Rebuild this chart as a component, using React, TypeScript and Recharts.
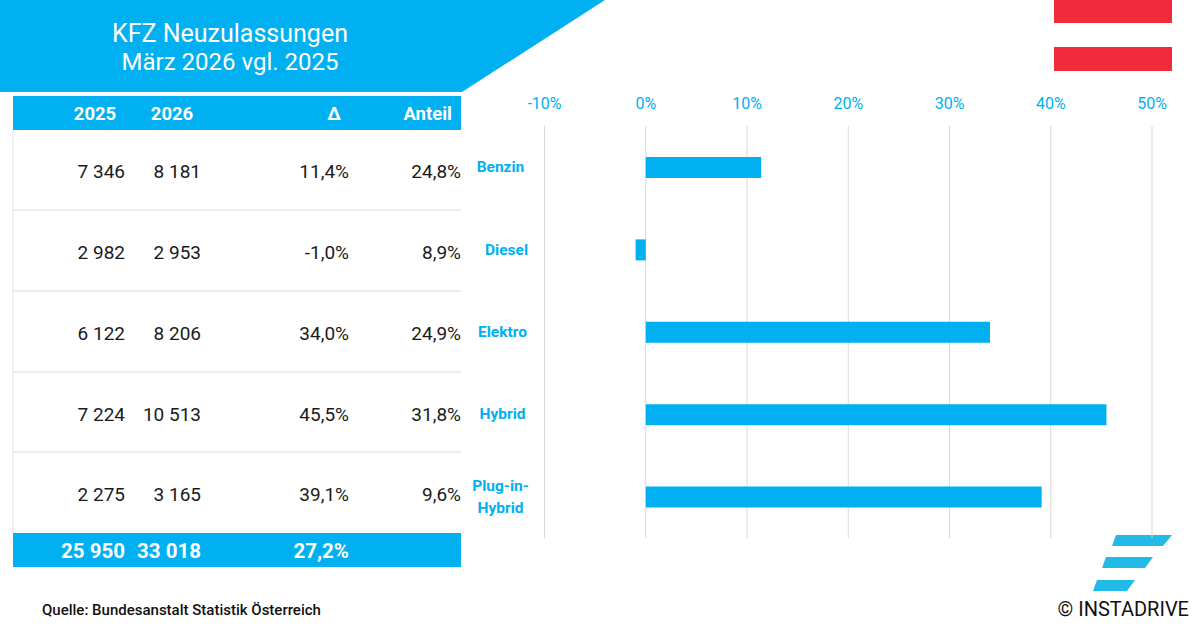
import React from "react";
import { BarChart, Bar, XAxis, YAxis, CartesianGrid } from "recharts";

const categories = ["Benzin", "Diesel", "Elektro", "Hybrid", "Plug-in-Hybrid"];
const changePct = [11.4, -1.0, 34.0, 45.5, 39.1];
const col2025 = ["7 346", "2 982", "6 122", "7 224", "2 275"];
const col2026 = ["8 181", "2 953", "8 206", "10 513", "3 165"];
const colDelta = ["11,4%", "-1,0%", "34,0%", "45,5%", "39,1%"];
const colShare = ["24,8%", "8,9%", "24,9%", "31,8%", "9,6%"];
const totals = ["25 950", "33 018", "27,2%"];
const headers = ["2025", "2026", "Δ", "Anteil"];
const xTicks = [-10, 0, 10, 20, 30, 40, 50];
const rowCenters = [171, 252, 333, 414, 494];
const rowLines = [210, 291, 372, 452];

const BLUE = "#00b0f0";
const FONT = "Roboto, 'Noto Sans', sans-serif";
const data = categories.map((name, i) => ({ name, value: changePct[i] }));

const T = ({ x, y, anchor = "end", size = 19, weight = 400, fill = "#1a1a1a", children }: any) => (
  <text x={x} y={y} textAnchor={anchor} dominantBaseline="central" fontFamily={FONT} fontSize={size} fontWeight={weight} fill={fill}>
    {children}
  </text>
);

const CategoryTick = ({ x, y, payload }: any) => {
  const v: string = payload.value;
  const lines = v === "Plug-in-Hybrid" ? ["Plug-in-", "Hybrid"] : [v];
  const cx = x - 36;
  return (
    <g>
      {lines.map((l, i) => (
        <text key={l} x={lines.length > 1 ? (i === 0 ? cx : cx + 0) : cx + (v === "Benzin" ? 0 : v === "Diesel" ? 6 : 2)} y={lines.length > 1 ? y - 11 + i * 22 : y}
          textAnchor="middle" dominantBaseline="central" fontFamily={FONT} fontSize={15.5} fontWeight={700} fill={BLUE}>
          {l}
        </text>
      ))}
    </g>
  );
};

export default function App() {
  return (
    <div style={{ position: "absolute", left: 0, top: 0, width: 1200, height: 629, background: "#fff", overflow: "hidden" }}>
      <svg width={1200} height={629} style={{ position: "absolute", left: 0, top: 0 }}>
        <polygon points="0,0 605,0 462,92 0,92" fill={BLUE} />
        <T x={230} y={33} anchor="middle" size={25} fill="#fff">KFZ Neuzulassungen</T>
        <T x={230} y={62} anchor="middle" size={24} fill="#fff">März 2026 vgl. 2025</T>

        <rect x={1054} y={0} width={118} height={23} fill="#ef2b3c" />
        <rect x={1054} y={47} width={118} height={24} fill="#ef2b3c" />

        <rect x={13} y={96} width={448} height={34} fill={BLUE} />
        <T x={95} y={114} anchor="middle" size={18.5} weight={700} fill="#fff">{headers[0]}</T>
        <T x={172} y={114} anchor="middle" size={18.5} weight={700} fill="#fff">{headers[1]}</T>
        <T x={334} y={114} anchor="middle" size={18.5} weight={700} fill="#fff">{headers[2]}</T>
        <T x={452} y={114} size={18.5} weight={700} fill="#fff">{headers[3]}</T>

        <line x1={13} x2={13} y1={130} y2={532} stroke="#e3e3e3" />
        {rowLines.map((y) => (
          <line key={y} x1={13} x2={461} y1={y} y2={y} stroke="#d9d9d9" />
        ))}
        {rowCenters.map((y, i) => (
          <g key={y}>
            <T x={125} y={y}>{col2025[i]}</T>
            <T x={201} y={y}>{col2026[i]}</T>
            <T x={349} y={y}>{colDelta[i]}</T>
            <T x={461} y={y}>{colShare[i]}</T>
          </g>
        ))}
        <rect x={13} y={533} width={448} height={34} fill={BLUE} />
        <T x={125} y={551} size={20.5} weight={700} fill="#fff">{totals[0]}</T>
        <T x={201} y={551} size={20.5} weight={700} fill="#fff">{totals[1]}</T>
        <T x={349} y={551} size={20.5} weight={700} fill="#fff">{totals[2]}</T>

        <T x={42} y={610} anchor="start" size={15} weight={500} fill="#111">Quelle: Bundesanstalt Statistik Österreich</T>

        <polygon points="1116,535 1172,535 1163,546 1112,546" fill="#22bbe8" />
        <polygon points="1106,557 1153,557 1145,568 1102,568" fill="#22bbe8" />
        <polygon points="1097,580 1135,580 1127,591 1093,591" fill="#22bbe8" />
        <T x={1189} y={609} size={20} fill="#111">© INSTADRIVE</T>
      </svg>

      <div style={{ position: "absolute", left: 0, top: 0 }}>
        <BarChart
          width={1200}
          height={629}
          data={data}
          layout="vertical"
          margin={{ top: 96, right: 48, bottom: 91, left: 454.5 }}
          style={{ background: "transparent" }}
        >
          <CartesianGrid horizontal={false} vertical stroke="#d9d9d9" />
          <XAxis
            type="number"
            orientation="top"
            domain={[-10, 50]}
            ticks={xTicks}
            height={30}
            axisLine={false}
            tickLine={false}
            interval={0}
            tickFormatter={(v: number) => `${v}%`}
            tick={{ fill: BLUE, fontSize: 16, fontFamily: FONT }}
            tickMargin={11}
          />
          <YAxis type="category" dataKey="name" width={90} axisLine={false} tickLine={false} interval={0} tick={<CategoryTick />} />
          <Bar dataKey="value" fill={BLUE} barSize={21} isAnimationActive={false} />
        </BarChart>
      </div>
    </div>
  );
}
